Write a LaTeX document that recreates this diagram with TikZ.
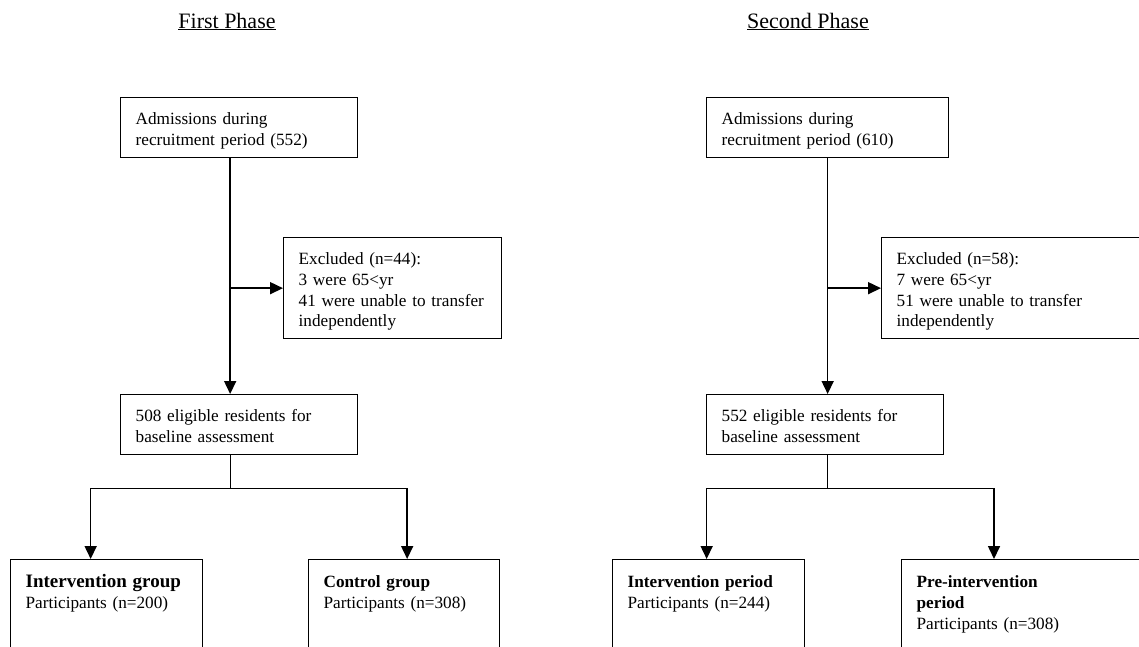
\documentclass[tikz,border=0pt]{standalone}
\usepackage{fontspec}
\setmainfont{Liberation Serif}
\usetikzlibrary{arrows.meta,positioning,calc}
\tikzset{box/.style={draw,line width=1.3pt,anchor=north west,align=left,
                     inner xsep=15pt,inner ysep=0pt,text height=27pt,
                     font=\fontsize{17.2}{20.7}\selectfont},
         lowbox/.style={box,text height=28pt,text depth=110pt},
         arr/.style={line width=1.6pt,-{Triangle[length=13pt,width=12pt]}},
         link/.style={line width=1.1pt},
         phase/.style={anchor=base,font=\fontsize{22}{26}\selectfont},
         biglabel/.style={font=\fontsize{19}{22}\selectfont\bfseries}}

\begin{document}
\begin{tikzpicture}[x=1pt,y=-1pt]
\useasboundingbox (0,0) rectangle (1139,646);
\clip (0,0) rectangle (1139,646);

% first phase
\node[phase] (ph1) at (227,28) {\underline{First Phase}};
\node[box,text width=207pt,text depth=33pt] (adm1) at (120,97) {Admissions during\\recruitment period (552)};
\node[box,text width=188pt,text depth=74pt] (exc1) at (283,237) {Excluded (n=44):\\3 were 65<yr\\41 were unable to transfer\\independently};
\node[box,text width=207pt,text depth=33pt] (elig1) at (120,394) {508 eligible residents for\\baseline assessment};
\node[lowbox,text width=162pt] (int1) at (10,559) {{\fontsize{19}{22}\selectfont\bfseries Intervention group}\\Participants (n=200)};
\node[lowbox,text width=161pt] (ctl1) at (308,559) {\textbf{Control group}\\Participants (n=308)};

\coordinate (col1) at ([xshift=-9pt]adm1.south);
\coordinate (top1) at ([xshift=-9pt]elig1.south);
\coordinate (fork1) at ($(top1)+(0,33)$);
\draw[arr] (col1) -- (col1 |- elig1.north);
\draw[arr] (col1 |- exc1.west) -- (exc1.west);
\draw[link] (top1) -- (fork1);
\draw[arr] (fork1) -| ([xshift=-16pt]int1.north);
\draw[arr] (fork1) -| ([xshift=3pt]ctl1.north);

% second phase
\node[phase] (ph2) at (808,28) {\underline{Second Phase}};
\node[box,text width=212pt,text depth=33pt] (adm2) at (706,97) {Admissions during\\recruitment period (610)};
\node[box,text width=250pt,text depth=74pt] (exc2) at (881,237) {Excluded (n=58):\\7 were 65<yr\\51 were unable to transfer\\independently};
\node[box,text width=207pt,text depth=33pt] (elig2) at (706,394) {552 eligible residents for\\baseline assessment};
\node[lowbox,text width=162pt] (int2) at (612,559) {\textbf{Intervention period}\\Participants (n=244)};
\node[lowbox,text width=240pt] (pre2) at (901,559) {\textbf{Pre-intervention}\\\textbf{period}\\Participants (n=308)};

\coordinate (col2) at (adm2.south);
\coordinate (top2) at (col2 |- elig2.south);
\coordinate (fork2) at ($(top2)+(0,33)$);
\coordinate (pre2in) at ($(pre2.north west)+(93,0)$);
\draw[arr] (col2) -- (col2 |- elig2.north);
\draw[arr] (col2 |- exc2.west) -- (exc2.west);
\draw[link] (top2) -- (fork2);
\draw[arr] (fork2) -| ([xshift=-2pt]int2.north);
\draw[arr] (fork2) -| (pre2in);
\end{tikzpicture}
\end{document}
